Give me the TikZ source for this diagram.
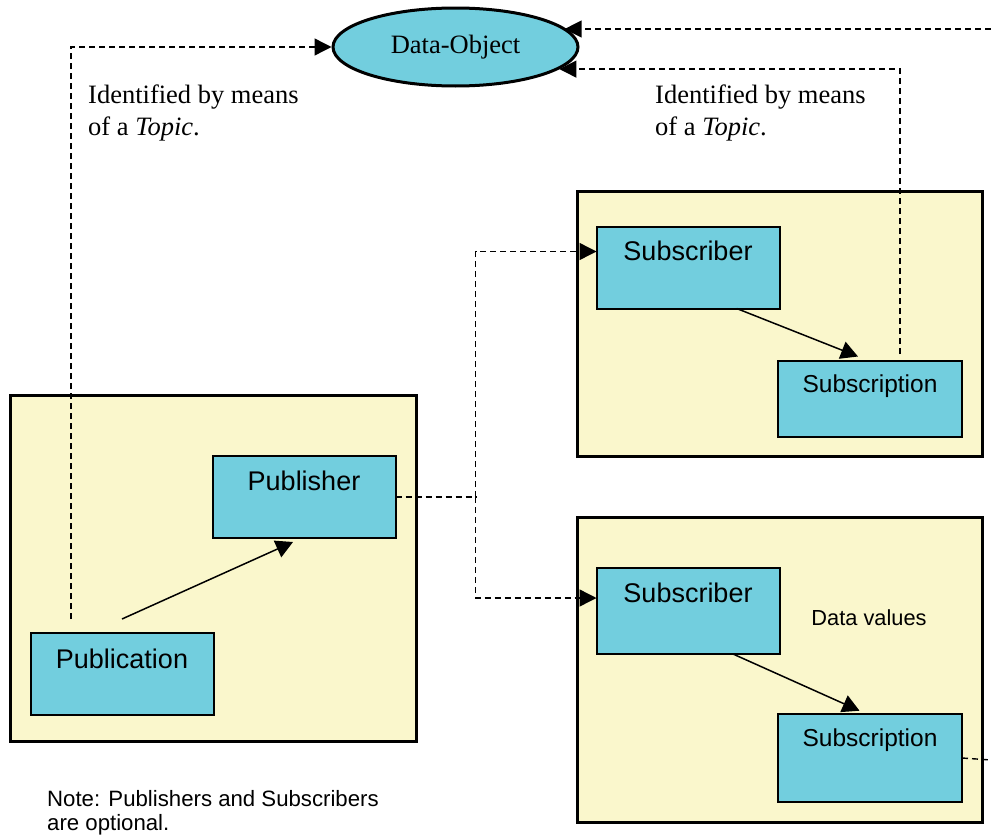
\documentclass[tikz,border=0pt]{standalone}
\usepackage{fontspec}
\setmainfont{Liberation Serif}
\setsansfont{Liberation Sans}
\usetikzlibrary{shapes.geometric,arrows.meta,calc}
\definecolor{boxcyan}{RGB}{114,206,222}
\definecolor{paleyellow}{RGB}{250,247,204}
\begin{document}
\begin{tikzpicture}[x=1pt,y=-1pt,
  frame/.style={draw=black, line width=3pt, fill=paleyellow, inner sep=0pt, outer sep=0pt, anchor=north west},
  entity/.style={draw=black, line width=2pt, fill=boxcyan, inner sep=0pt, outer sep=0pt, anchor=north west},
  boxtxt/.style={font=\sffamily\fontsize{27}{32}\selectfont, anchor=base, inner sep=0pt},
  smallboxtxt/.style={font=\sffamily\fontsize{24.5}{30}\selectfont, anchor=base, inner sep=0pt},
  serifnote/.style={font=\rmfamily\fontsize{26.5}{32}\selectfont, align=left, anchor=north west, inner sep=0pt},
  sansnote/.style={font=\sffamily\fontsize{22.2}{24}\selectfont, align=left, inner sep=0pt},
  link/.style={draw=black, line width=1.4pt, dash pattern=on 6pt off 4pt},
  headtri/.style={-{Triangle[length=17pt,width=17pt]}},
  solidarrow/.style={draw=black, line width=1.5pt, -{Triangle[length=17pt,width=18pt]}}
]
\useasboundingbox (0,0) rectangle (991,835);

% frames
\node[frame, minimum width=406, minimum height=346] (leftframe) at (10,395) {};
\node[frame, minimum width=405, minimum height=265] (topframe) at (577,191) {};
\node[frame, minimum width=405, minimum height=305] (botframe) at (577,517) {};

% entities
\node[entity, minimum width=183, minimum height=82] (pubr) at (212.5,456) {};
\node[boxtxt] (pubrtxt) at (304,490) {Publisher};
\node[entity, minimum width=183, minimum height=82] (pubn) at (30.5,633) {};
\node[boxtxt] (pubntxt) at (122,668) {Publication};

\node[entity, minimum width=183, minimum height=82] (sub1) at (596.5,226.5) {};
\node[boxtxt] (sub1txt) at (688,260) {Subscriber};
\node[entity, minimum width=184, minimum height=76] (ssn1) at (778,360.5) {};
\node[smallboxtxt] (ssn1txt) at (870,392.5) {Subscription};

\node[entity, minimum width=183, minimum height=86] (sub2) at (596.5,568) {};
\node[boxtxt] (sub2txt) at (688,602) {Subscriber};
\node[entity, minimum width=184, minimum height=88] (ssn2) at (778,714) {};
\node[smallboxtxt] (ssn2txt) at (870,746.5) {Subscription};

\node[sansnote, anchor=base, font=\sffamily\fontsize{21.8}{22.7}\selectfont] (dv) at (869,625.5) {Data values};

% data object
\node[ellipse, draw=black, line width=3pt, fill=boxcyan, minimum width=245, minimum height=78, inner sep=0pt,
      font=\rmfamily\fontsize{26.5}{32}\selectfont] (obj) at (455.5,47) {Data-Object};

% labels
\node[serifnote] (lbl1) at (88,85) {Identified by means\\of a \textit{Topic}.};
\node[serifnote] (lbl2) at (655,85) {Identified by means\\of a \textit{Topic}.};
\node[sansnote, anchor=north west] (note) at (47,790) {Note: Publishers and Subscribers\\are optional.};

% dashed connectors
\coordinate (pl) at (71,619);
\draw[link, headtri] (pl) |- (obj.west);
\coordinate (xr) at (991,29);
\draw[link, headtri] (xr) -- (xr -| obj.10);
\coordinate (c1) at (900,354);
\draw[link, headtri] (c1) |- (obj.-12);

\coordinate (j) at (475.7,497);
\draw[link] (pubr.east) -- (j);
\draw[link, headtri] (j) |- ([yshift=-25pt]sub1.north west);
\draw[link, headtri] (j) |- ([yshift=-30pt]sub2.north west);

\coordinate (xr2) at (991,760);
\draw[link] (ssn2.east) -- (xr2);

% solid arrows
\draw[solidarrow] ([yshift=14pt]pubn.north) -- ([xshift=-11pt,yshift=-4pt]pubr.south);
\draw[solidarrow] ([xshift=48.7pt]sub1.south) -- ([xshift=-12pt,yshift=4pt]ssn1.north);
\draw[solidarrow] ([xshift=45pt]sub2.south) -- ([xshift=-10.5pt,yshift=3.3pt]ssn2.north);
\end{tikzpicture}
\end{document}
